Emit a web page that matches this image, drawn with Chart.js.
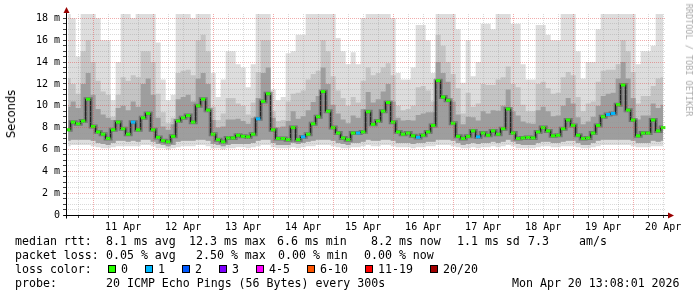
<!DOCTYPE html>
<html>
<head>
<meta charset="utf-8">
<title>SmokePing - last 10 days</title>
<script src="https://cdn.jsdelivr.net/npm/chart.js@4.4.1/dist/chart.umd.min.js"></script>
<style>
  html, body { margin: 0; padding: 0; background: #fff; }
  #graph { position: relative; width: 697px; height: 297px; overflow: hidden; font-family: 'DejaVu Sans Mono', monospace; color: #000; }
  #graph canvas { position: absolute; left: 0; top: 0; }
  .t { position: absolute; font-size: 11.6px; line-height: 14px; white-space: pre; }
  .sq { position: absolute; top: 265px; width: 6px; height: 6px; border: 1px solid #000; }
  #ylabel { position: absolute; left: 10.5px; top: 114px; transform: translate(-50%, -50%) rotate(-90deg);
            font-family: 'DejaVu Sans', sans-serif; font-size: 11.5px; color: #000; white-space: nowrap; }
  #mark { position: absolute; left: 689px; top: 60px; transform: translate(-50%, -50%) rotate(90deg);
          font-size: 8.5px; color: #aaa; white-space: nowrap; }
</style>
</head>
<body>
<div id="graph">
  <canvas id="chart" width="697" height="297"></canvas>
  <div id="ylabel">Seconds</div>
  <div id="mark">RRDTOOL / TOBI OETIKER</div>

  <span class="t" style="top:234px;left:15px">median rtt:</span>
  <span class="t" style="top:234px;left:106px">8.1 ms avg</span>
  <span class="t" style="top:234px;left:189px">12.3 ms max</span>
  <span class="t" style="top:234px;left:277px">6.6 ms min</span>
  <span class="t" style="top:234px;left:371px">8.2 ms now</span>
  <span class="t" style="top:234px;left:457px">1.1 ms sd</span>
  <span class="t" style="top:234px;left:528px">7.3</span>
  <span class="t" style="top:234px;left:579px">am/s</span>

  <span class="t" style="top:248px;left:15px">packet loss:</span>
  <span class="t" style="top:248px;left:106px">0.05 % avg</span>
  <span class="t" style="top:248px;left:196px">2.50 % max</span>
  <span class="t" style="top:248px;left:278px">0.00 % min</span>
  <span class="t" style="top:248px;left:364px">0.00 % now</span>

  <span class="t" style="top:262px;left:15px">loss color:</span>
  <div id="losslegend"></div>

  <span class="t" style="top:276px;left:15px">probe:</span>
  <span class="t" style="top:276px;left:106px">20 ICMP Echo Pings (56 Bytes) every 300s</span>
  <span class="t" style="top:276px;left:512px">Mon Apr 20 13:08:01 2026</span>
</div>

<script>
// time axis: hours relative to 11 Apr 00:00, window 10 Apr 13:08 -> 20 Apr 13:08
const startHour = -10.87;
const endHour = 229.13;
const firstSample = -10;
const stepHours = 2;

const dayLabels = ['11 Apr', '12 Apr', '13 Apr', '14 Apr', '15 Apr', '16 Apr', '17 Apr', '18 Apr', '19 Apr', '20 Apr'];

// median rtt in ms, one value every 2 hours
const medianRtt = [
  7.8, 8.5, 8.35, 8.6, 10.6, 8.1, 7.6, 7.4, 7.0, 7.8,
  8.5, 7.9, 7.4, 8.5, 7.8, 8.9, 9.3, 7.8, 7.1, 6.8,
  6.7, 7.2, 8.6, 8.9, 9.1, 8.5, 10.0, 10.6, 9.6, 7.4,
  6.9, 6.7, 7.05, 7.05, 7.3, 7.2, 7.15, 7.4, 8.8, 10.4,
  11.1, 7.8, 7.0, 7.0, 6.9, 8.0, 6.9, 7.15, 7.4, 8.35,
  9.0, 11.3, 9.5, 8.0, 7.5, 7.05, 6.9, 7.5, 7.5, 7.6,
  9.45, 8.3, 8.6, 9.5, 10.3, 8.5, 7.6, 7.4, 7.5, 7.25,
  7.1, 7.3, 7.6, 8.2, 12.3, 10.8, 10.5, 8.4, 7.2, 7.0,
  7.2, 7.7, 7.15, 7.5, 7.3, 7.7, 7.4, 7.9, 9.7, 7.5,
  7.0, 7.05, 7.1, 7.05, 7.6, 8.0, 7.7, 7.25, 7.3, 7.9,
  8.7, 8.2, 7.3, 7.0, 7.05, 7.5, 8.2, 9.0, 9.2, 9.3,
  10.1, 11.9, 9.6, 8.7, 7.25, 7.5, 7.5, 8.7, 7.7, 8.0
];

// lost pings (of 20) per sample
const lostPings = [
  0, 0, 0, 0, 0, 0, 0, 0, 0, 0,
  0, 0, 0, 1, 0, 0, 0, 0, 0, 0,
  0, 0, 0, 0, 0, 0, 0, 0, 0, 0,
  0, 0, 0, 0, 0, 0, 0, 0, 1, 0,
  0, 0, 0, 0, 0, 0, 0, 1, 0, 0,
  0, 0, 0, 0, 0, 0, 0, 0, 1, 0,
  0, 0, 0, 0, 0, 0, 0, 0, 0, 0,
  1, 0, 0, 0, 0, 0, 0, 0, 0, 0,
  0, 0, 1, 0, 0, 0, 0, 0, 0, 0,
  0, 0, 0, 0, 0, 0, 0, 0, 0, 0,
  0, 0, 0, 0, 0, 0, 0, 0, 1, 1,
  0, 0, 0, 0, 0, 0, 0, 0, 0, 0
];

// smoke: fastest ping, lower / upper quantiles, slowest ping (ms)
const smokeMin = [
  6.3, 6.4, 6.4, 6.4, 6.4, 6.3, 6.2, 6.1, 6.1, 6.2,
  6.3, 6.3, 6.3, 6.3, 6.3, 6.4, 6.4, 6.3, 6.1, 6.1,
  6.0, 6.1, 6.2, 6.3, 6.3, 6.3, 6.4, 6.4, 6.3, 6.1,
  6.1, 6.0, 6.1, 6.1, 6.2, 6.2, 6.1, 6.2, 6.3, 6.4,
  6.4, 6.2, 6.1, 6.1, 6.1, 6.2, 6.1, 6.2, 6.3, 6.3,
  6.4, 6.4, 6.4, 6.3, 6.2, 6.1, 6.1, 6.2, 6.2, 6.3,
  6.4, 6.3, 6.3, 6.4, 6.4, 6.3, 6.2, 6.2, 6.2, 6.1,
  6.2, 6.2, 6.3, 6.3, 6.4, 6.4, 6.4, 6.3, 6.2, 6.1,
  6.1, 6.2, 6.1, 6.2, 6.2, 6.3, 6.2, 6.3, 6.4, 6.3,
  6.1, 6.1, 6.1, 6.1, 6.2, 6.3, 6.3, 6.2, 6.2, 6.3,
  6.3, 6.3, 6.2, 6.1, 6.1, 6.2, 6.3, 6.4, 6.4, 6.4,
  6.4, 6.4, 6.4, 6.3, 6.2, 6.2, 6.2, 6.3, 6.3, 6.3
];

const smokeLow = [
  6.8, 6.9, 6.9, 6.9, 6.9, 6.8, 6.6, 6.5, 6.4, 6.6,
  6.8, 6.8, 6.7, 6.8, 6.7, 6.9, 6.9, 6.7, 6.5, 6.4,
  6.3, 6.4, 6.7, 6.8, 6.8, 6.8, 6.9, 6.9, 6.8, 6.5,
  6.4, 6.3, 6.4, 6.5, 6.5, 6.5, 6.5, 6.6, 6.8, 6.9,
  6.9, 6.6, 6.4, 6.4, 6.4, 6.6, 6.5, 6.6, 6.7, 6.8,
  6.9, 6.9, 6.9, 6.8, 6.6, 6.5, 6.4, 6.6, 6.6, 6.7,
  6.9, 6.8, 6.8, 6.9, 6.9, 6.8, 6.6, 6.6, 6.6, 6.5,
  6.6, 6.6, 6.7, 6.7, 6.9, 6.9, 6.9, 6.8, 6.6, 6.4,
  6.5, 6.6, 6.5, 6.6, 6.6, 6.7, 6.6, 6.7, 6.9, 6.7,
  6.5, 6.4, 6.4, 6.4, 6.6, 6.7, 6.7, 6.6, 6.6, 6.7,
  6.8, 6.8, 6.6, 6.4, 6.4, 6.6, 6.8, 6.9, 6.9, 6.9,
  6.9, 6.9, 6.9, 6.8, 6.6, 6.6, 6.6, 6.8, 6.7, 6.8
];

const smokeIn = [
  9.9, 10.4, 9.8, 12, 13, 11, 9.7, 9.2, 8.9, 8.7,
  9.8, 10, 9.6, 10.4, 9.9, 12, 12.5, 11, 8.9, 8.1,
  7.8, 8.3, 10.6, 10.8, 11, 10.4, 12.5, 13, 12, 8.7,
  8, 8.1, 8.75, 8.75, 8.8, 8.6, 8.35, 8.9, 10.7, 13,
  13.5, 8.9, 8, 8.1, 8.6, 9.5, 8.8, 9.05, 9.6, 10.35,
  10.9, 13.5, 12, 10.1, 9.3, 8.75, 8.4, 9.1, 8.9, 9.7,
  11.25, 10.3, 10.6, 11.3, 12, 10.4, 8.9, 8.65, 8.7, 8.65,
  9.15, 9.3, 9.4, 9.4, 14, 13, 12.2, 10.4, 9.2, 8.3,
  9, 8.95, 8.65, 9.5, 9.3, 9.6, 9.55, 10, 11.5, 9.5,
  9.1, 8.55, 8.4, 8.35, 9.6, 9.9, 9.5, 9.05, 9.1, 10,
  10.7, 10.2, 8.95, 8.3, 8.55, 9, 10, 10.9, 11.1, 11.2,
  12.5, 14, 12.5, 10.7, 8.75, 9.1, 9.1, 10.2, 9.8, 10.1
];

const smokeHi = [
  12.5, 12, 11.1, 15, 16, 14, 12.3, 11.3, 11, 9,
  11, 12.6, 12.3, 12.8, 12.6, 15, 15, 14, 11.1, 9.4,
  8.4, 8.9, 13, 13.2, 13.3, 12.8, 16, 16.5, 15, 9.9,
  8.7, 9.3, 10.7, 10.7, 10.2, 10, 9.2, 10.3, 13.1, 16,
  16, 9.5, 8.6, 8.7, 10.4, 11.1, 11.2, 11.4, 12.4, 12.9,
  13.2, 16, 15, 12.7, 11.4, 10.7, 10, 10.8, 10.3, 12.3,
  13.5, 12.8, 13, 13.5, 13.9, 12.8, 10, 9.6, 9.7, 10,
  11.7, 11.8, 11.4, 10.4, 16.5, 15.5, 14, 12.9, 11.6, 9.3,
  11.2, 9.9, 10.2, 12, 11.9, 11.9, 12.4, 12.6, 13.6, 12,
  11.7, 10.1, 9.5, 9.5, 12, 12.2, 11.6, 11.1, 11.2, 12.6,
  13.1, 12.8, 10.8, 9.5, 10.2, 10.4, 12.2, 13.2, 13.3, 13.3,
  13.8, 16, 15, 13.1, 10.2, 10.9, 10.9, 11.8, 12.5, 12.6
];

const smokeMax = [
  18.4, 18, 14.5, 18.4, 18.4, 18.4, 18, 16, 16, 10.5,
  14, 18.4, 18.4, 18, 18.4, 18.4, 18.4, 18.4, 15.8, 12.4,
  10.5, 11, 18.4, 18.4, 18.4, 18, 18.4, 18.4, 18.4, 13,
  10.8, 12.4, 15, 15, 13.8, 13.5, 11.7, 13.8, 18.4, 18.4,
  18.4, 11.5, 10.5, 10.8, 14.8, 15, 16.5, 16.5, 18.4, 18.4,
  18.4, 18.4, 18.4, 18.4, 16.2, 15, 13.8, 14.9, 13.8, 18,
  18.4, 18.4, 18.4, 18.4, 18.4, 18, 13, 12.4, 12.4, 13.5,
  17.4, 17.4, 16, 13, 18.4, 18.4, 18.4, 18.4, 17, 12.1,
  16, 12.7, 14, 17.5, 17.5, 17, 18.4, 18.4, 18.4, 17.5,
  17.5, 13.8, 12.4, 12.4, 17.4, 17.4, 16.5, 16, 16, 18.4,
  18.4, 18.4, 15, 12.5, 14, 14, 17, 18.4, 18.4, 18.4,
  18.4, 18.4, 18.4, 18.4, 13.8, 15, 15, 15.5, 18.4, 18.4
];

const lossLabels = ['0', '1', '2', '3', '4-5', '6-10', '11-19', '20/20'];
const lossColors = ['#26ff00', '#00b8ff', '#0059ff', '#7e00ff', '#ff00ff', '#ff5500', '#ff0000', '#a10000'];

// legend squares for loss colours
const legendX = [108, 145, 182, 219, 256, 307, 365, 430];
const legendBox = document.getElementById('losslegend');
lossLabels.forEach((label, i) => {
  const sq = document.createElement('span');
  sq.className = 'sq';
  sq.style.left = legendX[i] + 'px';
  sq.style.background = lossColors[i];
  legendBox.appendChild(sq);
  const txt = document.createElement('span');
  txt.className = 't';
  txt.style.top = '262px';
  txt.style.left = (legendX[i] + 13) + 'px';
  txt.textContent = label;
  legendBox.appendChild(txt);
});

const sampleHours = medianRtt.map((_, i) => firstSample + i * stepHours);
const pts = arr => arr.map((v, i) => ({ x: sampleHours[i], y: v }));

const xTicks = [];
for (let h = -6; h <= 228; h += 6) xTicks.push(h);
const yTicks = [];
for (let v = 0; v <= 18; v += 0.5) yTicks.push(v);

const majorGrid = 'rgba(225, 70, 70, 0.45)';
const minorGrid = 'rgba(150, 150, 150, 0.35)';
const tickFont = { family: 'DejaVu Sans Mono', size: 10 };

const band = (data, extra) => Object.assign({
  data: pts(data),
  stepped: 'middle',
  borderWidth: 0,
  pointRadius: 0,
  fill: false
}, extra);

// axis lines with the rrdtool arrow heads
const axisArrows = {
  id: 'axisArrows',
  afterDraw(chart) {
    const { ctx, chartArea: a } = chart;
    const x0 = Math.round(a.left) + 0.5;
    const y0 = Math.round(a.bottom) + 0.5;
    ctx.save();
    ctx.strokeStyle = '#000';
    ctx.lineWidth = 1;
    ctx.beginPath();
    ctx.moveTo(x0 - 3, y0);
    ctx.lineTo(a.right + 3, y0);
    ctx.moveTo(x0, y0 + 3);
    ctx.lineTo(x0, a.top - 2);
    ctx.stroke();
    ctx.fillStyle = '#990000';
    ctx.beginPath();
    ctx.moveTo(x0, a.top - 7);
    ctx.lineTo(x0 - 3, a.top - 1);
    ctx.lineTo(x0 + 3, a.top - 1);
    ctx.closePath();
    ctx.fill();
    ctx.beginPath();
    ctx.moveTo(a.right + 8, y0);
    ctx.lineTo(a.right + 2, y0 - 3);
    ctx.lineTo(a.right + 2, y0 + 3);
    ctx.closePath();
    ctx.fill();
    ctx.restore();
  }
};

new Chart(document.getElementById('chart'), {
  type: 'line',
  data: {
    datasets: [
      band(smokeMin, { order: 7 }),
      band(smokeMax, { order: 6, fill: '-1', backgroundColor: '#dddddd' }),
      band(smokeLow, { order: 5 }),
      band(smokeHi, { order: 4, fill: '-1', backgroundColor: '#c4c4c4' }),
      band(smokeIn, { order: 3, fill: 2, backgroundColor: '#9e9e9e' }),
      // dark core of the smoke hugging the median
      {
        data: pts(medianRtt),
        order: 2,
        stepped: 'middle',
        borderColor: 'rgba(60, 60, 60, 0.45)',
        borderWidth: 4,
        pointRadius: 0,
        fill: false
      },
      {
        data: pts(medianRtt),
        order: 1,
        stepped: 'middle',
        borderColor: '#111',
        borderWidth: 1,
        pointRadius: 0,
        fill: false
      },
      {
        data: pts(medianRtt),
        order: 0,
        showLine: false,
        pointStyle: 'line',
        pointRadius: 2.2,
        pointBorderWidth: 3,
        pointBorderColor: lostPings.map(n => lossColors[n]),
        pointBackgroundColor: lostPings.map(n => lossColors[n])
      }
    ]
  },
  options: {
    responsive: false,
    animation: false,
    layout: { padding: { top: 14, right: 31, left: 0, bottom: 0 } },
    plugins: { legend: { display: false }, tooltip: { enabled: false } },
    scales: {
      x: {
        type: 'linear',
        min: startHour,
        max: endHour,
        afterBuildTicks: s => { s.ticks = xTicks.map(v => ({ value: v })); },
        afterFit: s => { s.height = 82; },
        ticks: {
          autoSkip: false,
          maxRotation: 0,
          padding: 3,
          color: '#000',
          font: tickFont,
          callback: v => (v % 24 === 12 ? dayLabels[(v - 12) / 24] : '')
        },
        grid: {
          z: 1,
          color: c => (c.tick && c.tick.value % 24 === 0 ? majorGrid : minorGrid),
          tickColor: '#444',
          tickLength: 3
        },
        border: { display: false, dash: [1, 1] }
      },
      y: {
        min: 0,
        max: 18.4,
        afterBuildTicks: s => { s.ticks = yTicks.map(v => ({ value: v })); },
        afterFit: s => { s.width = 66; },
        ticks: {
          autoSkip: false,
          padding: 3,
          color: '#000',
          font: tickFont,
          callback: v => (v % 2 === 0 ? (v === 0 ? '0' : v + ' m') : '')
        },
        grid: {
          z: 1,
          color: c => (c.tick && c.tick.value % 2 === 0 ? majorGrid : minorGrid),
          tickColor: '#444',
          tickLength: 3
        },
        border: { display: false, dash: [1, 1] }
      }
    }
  },
  plugins: [axisArrows]
});
</script>
</body>
</html>
